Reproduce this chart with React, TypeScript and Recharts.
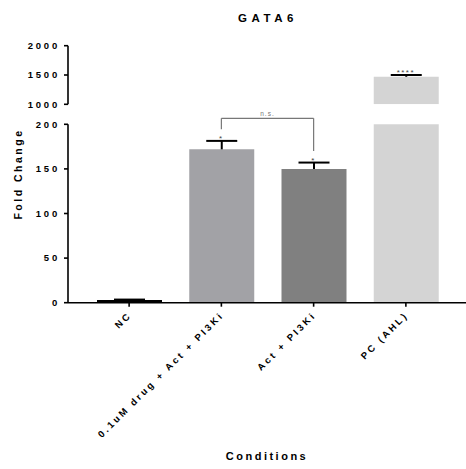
import React from "react";
import {
  BarChart,
  Bar,
  XAxis,
  YAxis,
  ErrorBar,
  Cell,
  ReferenceLine,
  ReferenceDot,
  Label,
} from "recharts";

const categories = ["NC", "0.1uM drug + Act + PI3Ki", "Act + PI3Ki", "PC (AHL)"];
const foldChange = [3, 172, 150, 1471];
const sem = [0.5, 9.4, 7.1, 29];
const significance = ["", "*", "*", "****"];
const barColors = ["#000000", "#a2a2a6", "#808080", "#d4d4d4"];

const lowerDomain = [0, 200];
const upperDomain = [1000, 2000];
const lowerTicks = [0, 50, 100, 150, 200];
const upperTicks = [1000, 1500, 2000];

// n.s. bracket between bar 2 and bar 3 (lower axis units)
const bracketTop = 206.7;
const bracketLeftEnd = 194.4;
const bracketRightEnd = 170;

const lowerData = categories.map((name, i) => ({
  name,
  value: foldChange[i],
  err: sem[i],
}));
// the upper segment only shows bars that reach past the break
const upperData = categories.map((name, i) => ({
  name,
  value: foldChange[i] >= upperDomain[0] ? foldChange[i] : null,
  err: sem[i],
}));

const FONT = "'Liberation Sans', Arial, sans-serif";
const W = 466;
const H = 469;
const AXIS_W = 68;
const PAD = { left: 15, right: 14 };

const axisStroke = { stroke: "#000", strokeWidth: 1.6 };
const yTick = { fill: "#000", fontSize: 9.5, fontWeight: 700, fontFamily: FONT, letterSpacing: 2.8 };

const RotatedTick = ({ x, y, payload }: any) => (
  <g transform={`translate(${x + 3},${y + 7})`}>
    <text
      x={0}
      y={0}
      textAnchor="end"
      transform="rotate(-45)"
      fill="#000"
      fontSize={9.5}
      fontWeight={700}
      fontFamily={FONT}
      letterSpacing={2.6}
    >
      {payload.value}
    </text>
  </g>
);

function Bars(rows: typeof lowerData) {
  // invisible bars carry the error bars; the filled bars are drawn over them
  return [
    <Bar key="e" xAxisId="err" dataKey="value" fill="none" barSize={65} isAnimationActive={false}>
      <ErrorBar dataKey="err" width={15.5} stroke="#000" strokeWidth={2} isAnimationActive={false} zIndex={350} />
    </Bar>,
    <Bar key="m" dataKey="value" barSize={65} isAnimationActive={false} zIndex={450}>
      {rows.map((d, i) => (
        <Cell key={d.name} fill={barColors[i]} />
      ))}
    </Bar>,
  ];
}

function SigMarks() {
  return lowerData
    .map((d, i) =>
      significance[i] ? (
        <ReferenceDot
          key={d.name}
          x={d.name}
          y={d.value + d.err}
          r={0}
          fill="none"
          stroke="none"
          label={{
            value: significance[i],
            position: "top",
            offset: 0,
            fill: "#444",
            fontSize: 8,
            fontFamily: FONT,
            letterSpacing: 1.5,
          }}
        />
      ) : null
    )
    .filter(Boolean);
}

export default function App() {
  return (
    <div style={{ position: "absolute", left: 0, top: 0, width: W, height: H, background: "#fff" }}>
      <div style={{ position: "absolute", left: 0, top: 0 }}>
        <BarChart width={W} height={469} data={lowerData} margin={{ top: 124.3, right: 0, bottom: 0, left: 0 }}>
          <XAxis
            dataKey="name"
            height={166.3}
            padding={PAD}
            axisLine={axisStroke}
            tickLine={axisStroke}
            tickSize={4}
            interval={0}
            tick={<RotatedTick />}
          >
            <Label
              value="Conditions"
              position="insideBottom"
              offset={9}
              fill="#000"
              fontSize={11}
              fontWeight={700}
              fontFamily={FONT}
              letterSpacing={2.5}
            />
          </XAxis>
          <XAxis xAxisId="err" dataKey="name" hide padding={PAD} />
          <YAxis
            width={AXIS_W}
            domain={lowerDomain}
            ticks={lowerTicks}
            allowDataOverflow
            axisLine={axisStroke}
            tickLine={axisStroke}
            tickSize={4}
            tickMargin={4}
            tick={yTick}
          />
          {Bars(lowerData)}
          <ReferenceLine
            ifOverflow="visible"
            segment={[
              { x: categories[1], y: bracketTop },
              { x: categories[2], y: bracketTop },
            ]}
            stroke="#777"
            strokeWidth={1.2}
            label={{ value: "n.s.", position: "top", offset: 2, fill: "#777", fontSize: 6.5, fontFamily: FONT, letterSpacing: 1 }}
          />
          <ReferenceLine
            ifOverflow="visible"
            segment={[
              { x: categories[1], y: bracketTop },
              { x: categories[1], y: bracketLeftEnd },
            ]}
            stroke="#777"
            strokeWidth={1.2}
          />
          <ReferenceLine
            ifOverflow="visible"
            segment={[
              { x: categories[2], y: bracketTop },
              { x: categories[2], y: bracketRightEnd },
            ]}
            stroke="#777"
            strokeWidth={1.2}
          />
          {SigMarks()}
        </BarChart>
      </div>

      <div style={{ position: "absolute", left: 0, top: 0 }}>
        <BarChart width={W} height={110} data={upperData} margin={{ top: 45.7, right: 0, bottom: 5.7, left: 0 }}>
          <XAxis dataKey="name" hide padding={PAD} />
          <XAxis xAxisId="err" dataKey="name" hide padding={PAD} />
          <YAxis
            width={AXIS_W}
            domain={upperDomain}
            ticks={upperTicks}
            allowDataOverflow
            axisLine={axisStroke}
            tickLine={axisStroke}
            tickSize={4}
            tickMargin={4}
            tick={yTick}
          />
          {Bars(upperData as any)}
          {SigMarks()}
        </BarChart>
      </div>

      <svg width={W} height={H} style={{ position: "absolute", left: 0, top: 0, pointerEvents: "none" }}>
        <text
          x={268}
          y={21.7}
          textAnchor="middle"
          fontSize={11.5}
          fontWeight={700}
          fontFamily={FONT}
          letterSpacing={4.5}
          fill="#000"
        >
          GATA6
        </text>
        <text
          transform="translate(21.5,174) rotate(-90)"
          textAnchor="middle"
          fontSize={10.5}
          fontWeight={700}
          fontFamily={FONT}
          letterSpacing={2.5}
          fill="#000"
        >
          Fold Change
        </text>
      </svg>
    </div>
  );
}
